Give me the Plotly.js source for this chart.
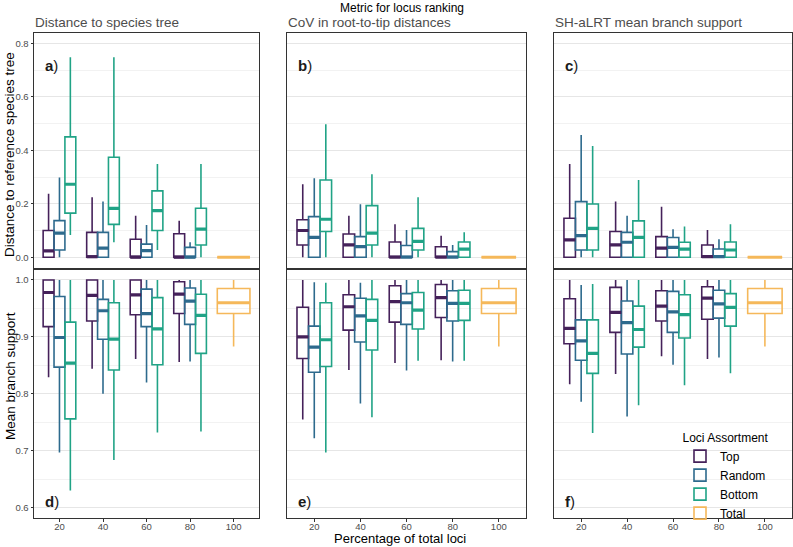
<!DOCTYPE html>
<html>
<head>
<meta charset="utf-8">
<script src="https://cdn.plot.ly/plotly-3.0.1.min.js"></script>
<style>html,body{margin:0;padding:0;background:#fff}</style>
</head>
<body>
<div id="chart" style="width:793px;height:547px"></div>
<script>
var pct = [20, 40, 60, 80];
var totalPct = [100];
var groups = ['Top', 'Random', 'Bottom', 'Total'];
var colors = ['#45215a', '#2d6a8d', '#20a386', '#f5b85a'];
var metrics = ['Distance to species tree', 'CoV in root-to-tip distances', 'SH-aLRT mean branch support'];
var panelLabels = ['a', 'b', 'c', 'd', 'e', 'f'];

// one row per percentage: [lower whisker, q1, median, q3, upper whisker]
// distance to reference species tree
var rfDistTop = [[0,0,0.024,0.10,0.237],[0,0,0.002,0.093,0.224],[0,0,0,0.067,0.155],[0,0,0,0.088,0.136]];
var rfDistRandom = [[0,0.027,0.09,0.137,0.298],[0,0,0.034,0.093,0.208],[0,0,0.025,0.049,0.121],[0,0,0,0.037,0.056]];
var rfDistBottom = [[0.083,0.165,0.273,0.45,0.748],[0.056,0.123,0.183,0.374,0.748],[0.027,0.10,0.174,0.248,0.349],[0,0.046,0.105,0.183,0.349]];

var rfCovTop = [[0,0.046,0.10,0.14,0.273],[0,0,0.046,0.087,0.155],[0,0,0,0.057,0.123],[0,0,0,0.039,0.08]];
var rfCovRandom = [[0,0,0.074,0.152,0.295],[0,0,0.04,0.077,0.198],[0,0,0,0.044,0.102],[0,0,0,0.021,0.046]];
var rfCovBottom = [[0,0.096,0.142,0.289,0.497],[0,0.046,0.09,0.193,0.31],[0,0.027,0.059,0.108,0.224],[0,0,0.03,0.057,0.093]];

var rfShTop = [[0,0,0.065,0.146,0.349],[0,0,0.046,0.096,0.208],[0,0,0.034,0.077,0.189],[0,0,0.002,0.046,0.102]];
var rfShRandom = [[0,0.027,0.081,0.208,0.457],[0,0,0.056,0.093,0.155],[0,0,0.037,0.074,0.105],[0,0,0.002,0.031,0.067]];
var rfShBottom = [[0,0.027,0.108,0.199,0.416],[0,0,0.074,0.136,0.289],[0,0,0.03,0.056,0.115],[0,0,0.027,0.057,0.123]];

var rfTotal = [[0,0,0,0,0]];

// mean branch support
var bsDistTop = [[0.829,0.918,0.978,1.0,1.0],[0.844,0.928,0.973,1.0,1.0],[0.861,0.939,0.974,1.0,1.0],[0.856,0.941,0.975,0.997,1.0]];
var bsDistRandom = [[0.697,0.847,0.899,0.971,1.0],[0.80,0.896,0.946,0.966,1.0],[0.82,0.918,0.941,0.984,1.0],[0.857,0.922,0.963,0.986,1.0]];
var bsDistBottom = [[0.63,0.756,0.854,0.926,1.0],[0.684,0.842,0.896,0.96,1.0],[0.732,0.851,0.914,0.969,1.0],[0.734,0.871,0.938,0.975,1.0]];

var bsCovTop = [[0.755,0.862,0.90,0.952,1.0],[0.842,0.912,0.953,0.974,1.0],[0.854,0.926,0.962,0.99,1.0],[0.859,0.934,0.969,0.992,1.0]];
var bsCovRandom = [[0.722,0.838,0.882,0.919,0.996],[0.783,0.891,0.937,0.968,0.995],[0.841,0.922,0.96,0.976,1.0],[0.857,0.928,0.959,0.981,1.0]];
var bsCovBottom = [[0.697,0.848,0.895,0.96,0.995],[0.759,0.877,0.929,0.966,1.0],[0.858,0.914,0.947,0.978,1.0],[0.858,0.929,0.959,0.982,1.0]];

var bsShTop = [[0.817,0.888,0.915,0.967,1.0],[0.835,0.908,0.943,0.987,1.0],[0.866,0.928,0.954,0.981,1.0],[0.861,0.931,0.968,0.988,1.0]];
var bsShRandom = [[0.786,0.859,0.893,0.93,0.991],[0.76,0.87,0.925,0.963,1.0],[0.851,0.908,0.944,0.98,1.0],[0.864,0.933,0.958,0.982,1.0]];
var bsShBottom = [[0.731,0.836,0.871,0.93,0.993],[0.78,0.882,0.913,0.954,1.0],[0.815,0.898,0.939,0.974,1.0],[0.836,0.919,0.952,0.976,1.0]];

var bsTotal = [[0.883,0.941,0.96,0.985,1.0]];

var panels = [
  [rfDistTop, rfDistRandom, rfDistBottom, rfTotal],
  [rfCovTop, rfCovRandom, rfCovBottom, rfTotal],
  [rfShTop, rfShRandom, rfShBottom, rfTotal],
  [bsDistTop, bsDistRandom, bsDistBottom, bsTotal],
  [bsCovTop, bsCovRandom, bsCovBottom, bsTotal],
  [bsShTop, bsShRandom, bsShBottom, bsTotal]
];

var W = 793, H = 547;
var FONT = 'Liberation Sans, Arial, sans-serif';
var colDom = [[34, 259.3], [287.3, 526], [554.3, 792]];
var rowDom = [[33, 269], [269, 518]];
var dodge = 5;    // box width in x units (ggplot dodge 0.75 of a 20-unit slot / 3)
var offsets = [-dodge, 0, dodge];

var data = [];
var medians = [];
panels.forEach(function(series, p){
  var ax = p === 0 ? '' : String(p + 1);
  series.forEach(function(rows, g){
    var isTotal = g === 3;
    var xs = (isTotal ? totalPct : pct).map(function(v){ return v + (isTotal ? 0 : offsets[g]); });
    var w = isTotal ? dodge * 3 : dodge;
    data.push({
      type: 'box',
      name: groups[g],
      legendgroup: groups[g],
      showlegend: p === 0,
      x: xs,
      lowerfence: rows.map(function(r){ return r[0]; }),
      q1: rows.map(function(r){ return r[1]; }),
      median: rows.map(function(r){ return r[2]; }),
      q3: rows.map(function(r){ return r[3]; }),
      upperfence: rows.map(function(r){ return r[4]; }),
      width: w,
      boxpoints: false,
      whiskerwidth: 0,
      line: {color: colors[g], width: 1.6},
      fillcolor: 'rgba(255,255,255,0)',
      hoverinfo: 'skip',
      xaxis: 'x' + ax,
      yaxis: 'y' + ax
    });
    // thicker median bar, as in ggplot
    var mx = [], my = [];
    rows.forEach(function(r, i){
      mx.push(xs[i] - w / 2, xs[i] + w / 2, null);
      my.push(r[2], r[2], null);
    });
    medians.push({
      type: 'scatter', mode: 'lines', x: mx, y: my,
      line: {color: colors[g], width: 3.2},
      showlegend: false, hoverinfo: 'skip',
      xaxis: 'x' + ax, yaxis: 'y' + ax
    });
  });
});
data = data.concat(medians);

var layout = {
  width: W, height: H,
  margin: {l: 0, r: 0, t: 0, b: 0},
  paper_bgcolor: '#fff', plot_bgcolor: '#fff',
  font: {family: FONT, color: '#000'},
  boxmode: 'overlay',
  showlegend: true,
  legend: {
    x: 680 / W, y: 1 - 426 / H, xanchor: 'left', yanchor: 'top',
    bgcolor: 'rgba(0,0,0,0)',
    font: {family: FONT, size: 12, color: '#000'},
    title: {text: 'Loci Assortment', side: 'top center', font: {family: FONT, size: 12, color: '#000'}},
    tracegroupgap: 0,
    traceorder: 'normal'
  },
  annotations: []
};

for (var p = 0; p < 6; p++) {
  var row = p < 3 ? 0 : 1, col = p % 3;
  var ax = p === 0 ? '' : String(p + 1);
  var bottom = row === 1;
  layout['xaxis' + ax] = {
    domain: [colDom[col][0] / W, colDom[col][1] / W],
    anchor: 'y' + ax,
    range: [8.3, 111.8],
    tickvals: [20, 40, 60, 80, 100],
    showticklabels: bottom,
    ticks: bottom ? 'outside' : '',
    ticklen: 3, tickcolor: '#333',
    ticklabelstandoff: -3,
    tickfont: {family: FONT, size: 9.5, color: '#4d4d4d'},
    showgrid: false, zeroline: false,
    showline: true, mirror: true, linecolor: '#333', linewidth: 1
  };
  layout['yaxis' + ax] = {
    domain: [1 - rowDom[row][1] / H, 1 - rowDom[row][0] / H],
    anchor: 'x' + ax,
    range: bottom ? [0.5819, 1.0193] : [-0.044, 0.8385],
    tick0: bottom ? 0.6 : 0,
    dtick: bottom ? 0.1 : 0.2,
    tickformat: '.1f',
    showticklabels: col === 0,
    ticks: col === 0 ? 'outside' : '',
    ticklen: 2.5, tickcolor: '#333',
    tickfont: {family: FONT, size: 9.5, color: '#4d4d4d'},
    showgrid: true, gridcolor: '#e6e6e6', gridwidth: 1,
    minor: {dtick: bottom ? 0.05 : 0.1, showgrid: true, gridcolor: '#f2f2f2', gridwidth: 1},
    zeroline: false,
    showline: true, mirror: true, linecolor: '#333', linewidth: 1
  };
  layout.annotations.push({
    xref: 'paper', yref: 'paper',
    x: (colDom[col][0] + 9) / W, y: 1 - (bottom ? 501 : 65) / H,
    xanchor: 'left', yanchor: 'middle', showarrow: false,
    text: '<b>' + panelLabels[p] + '</b>)',
    font: {family: FONT, size: 15, color: '#1a1a1a'}
  });
}

metrics.forEach(function(m, c){
  layout.annotations.push({
    xref: 'paper', yref: 'paper', x: colDom[c][0] / W, y: 1 - 22.5 / H,
    xanchor: 'left', yanchor: 'middle', showarrow: false, borderpad: 0,
    text: m, font: {family: FONT, size: 13.5, color: '#4d4d4d'}
  });
});

layout.annotations.push(
  {xref: 'paper', yref: 'paper', x: 402 / W, y: 1, xanchor: 'center', yanchor: 'top',
   showarrow: false, borderpad: 0, text: 'Metric for locus ranking', font: {family: FONT, size: 12, color: '#000'}},
  {xref: 'paper', yref: 'paper', x: 400 / W, y: 0, xanchor: 'center', yanchor: 'bottom',
   showarrow: false, borderpad: 0, text: 'Percentage of total loci', font: {family: FONT, size: 13, color: '#000'}},
  {xref: 'paper', yref: 'paper', x: 10 / W, y: 1 - 155 / H, xanchor: 'center', yanchor: 'middle',
   textangle: -90, showarrow: false, text: 'Distance to reference species tree',
   font: {family: FONT, size: 13.5, color: '#000'}},
  {xref: 'paper', yref: 'paper', x: 10 / W, y: 1 - 376 / H, xanchor: 'center', yanchor: 'middle',
   textangle: -90, showarrow: false, text: 'Mean branch support',
   font: {family: FONT, size: 13.5, color: '#000'}}
);

Plotly.newPlot('chart', data, layout, {staticPlot: true});
</script>
</body>
</html>
